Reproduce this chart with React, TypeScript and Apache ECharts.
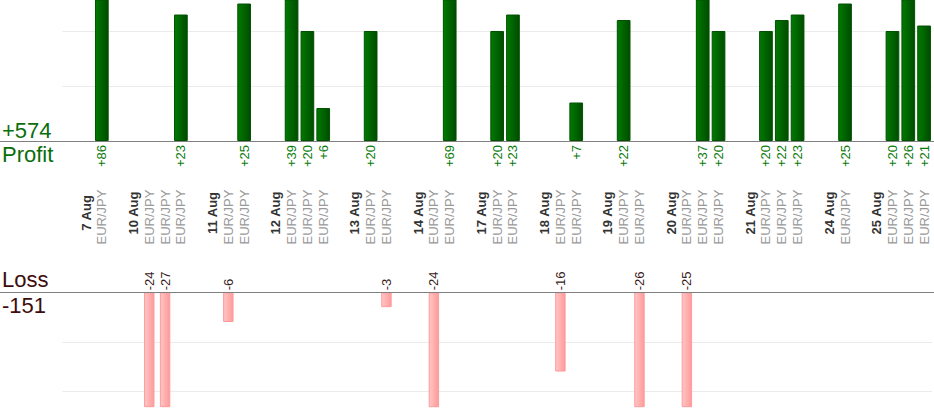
import React, { useEffect, useRef } from "react";
import * as echarts from "echarts";

const dayLabels = ["7 Aug", "10 Aug", "11 Aug", "12 Aug", "13 Aug", "14 Aug", "17 Aug", "18 Aug", "19 Aug", "20 Aug", "21 Aug", "24 Aug", "25 Aug"];
const dayTrades = [
  [86],
  [-24, -27, 23],
  [-6, 25],
  [39, 20, 6],
  [20, -3],
  [-24, 69],
  [20, 23],
  [-16, 7],
  [22, -26],
  [-25, 37, 20],
  [20, 22, 23],
  [25],
  [20, 26, 21],
];
const tradePair = "EUR/JPY";
const profitMax = 25.64;
const lossMax = 23.1;
const gridStep = 10;

type Slot = { date: string; pair: string; pnl: number | null };
const slots: Slot[] = [];
dayLabels.forEach((d, i) => {
  slots.push({ date: "", pair: "", pnl: null });
  slots.push({ date: d, pair: "", pnl: null });
  dayTrades[i].forEach((v) => slots.push({ date: "", pair: tradePair, pnl: v }));
});

const totalProfit = slots.reduce((a, s) => a + (s.pnl !== null && s.pnl > 0 ? s.pnl : 0), 0);
const totalLoss = slots.reduce((a, s) => a + (s.pnl !== null && s.pnl < 0 ? s.pnl : 0), 0);

const FONT = "'Liberation Sans', Arial, sans-serif";

export default function App() {
  const ref = useRef<HTMLDivElement>(null);
  useEffect(() => {
    if (!ref.current) return;
    const chart = echarts.init(ref.current, undefined, { renderer: "svg" });
    const hidden = { axisLine: { show: false }, axisTick: { show: false } };
    const gridLeft = 62.3;
    const gridRight = 2;
    chart.setOption({
      animation: false,
      textStyle: { fontFamily: FONT },
      grid: [
        { left: gridLeft, right: gridRight, top: 0, height: 141 },
        { left: gridLeft, right: gridRight, top: 292.3, height: 114.4 },
      ],
      xAxis: [
        {
          gridIndex: 0,
          type: "category",
          data: slots.map((s) => (s.pnl !== null && s.pnl > 0 ? "+" + s.pnl : "")),
          ...hidden,
          axisLabel: { interval: 0, rotate: 90, margin: 4, color: "#0a7a0a", fontSize: 13, fontFamily: FONT },
        },
        {
          gridIndex: 0,
          type: "category",
          position: "bottom",
          offset: 72,
          data: slots.map((s) => s.date),
          ...hidden,
          axisLabel: {
            interval: 0, rotate: 90, margin: 0, align: "center", verticalAlign: "middle",
            color: "#333333", fontSize: 13, fontWeight: "bold", fontFamily: FONT,
          },
        },
        {
          gridIndex: 0,
          type: "category",
          position: "bottom",
          offset: 76,
          data: slots.map((s) => s.pair),
          ...hidden,
          axisLabel: {
            interval: 0, rotate: 90, margin: 0, align: "center", verticalAlign: "middle",
            color: "#999999", fontSize: 13, fontFamily: FONT,
          },
        },
        {
          gridIndex: 1,
          type: "category",
          position: "top",
          data: slots.map((s) => (s.pnl !== null && s.pnl < 0 ? String(s.pnl) : "")),
          ...hidden,
          axisLabel: { interval: 0, rotate: 90, margin: 2, color: "#3a1a1a", fontSize: 13, fontFamily: FONT },
        },
      ],
      yAxis: [
        {
          gridIndex: 0, type: "value", min: 0, max: profitMax, interval: gridStep,
          ...hidden, axisLabel: { show: false },
          splitLine: { show: true, showMinLine: false, showMaxLine: false, lineStyle: { color: "#ebebeb", width: 1 } },
        },
        {
          gridIndex: 1, type: "value", min: 0, max: lossMax, interval: gridStep, inverse: true,
          ...hidden, axisLabel: { show: false },
          splitLine: { show: true, showMinLine: false, showMaxLine: false, lineStyle: { color: "#ebebeb", width: 1 } },
        },
      ],
      series: [
        {
          type: "bar",
          xAxisIndex: 0,
          yAxisIndex: 0,
          barWidth: 13.7,
          clip: true,
          data: slots.map((s) => (s.pnl !== null && s.pnl > 0 ? s.pnl : "-")),
          itemStyle: {
            color: new echarts.graphic.LinearGradient(0, 0, 1, 0, [
              { offset: 0, color: "#007a00" },
              { offset: 1, color: "#004c00" },
            ]),
            borderColor: "#005200",
            borderWidth: 1,
          },
        },
        {
          type: "bar",
          xAxisIndex: 3,
          yAxisIndex: 1,
          barWidth: 10.4,
          clip: true,
          data: slots.map((s) => (s.pnl !== null && s.pnl < 0 ? -s.pnl : "-")),
          itemStyle: {
            color: new echarts.graphic.LinearGradient(0, 0, 1, 0, [
              { offset: 0, color: "#ffc6c6" },
              { offset: 1, color: "#ff9a9a" },
            ]),
            borderColor: "#ff9a9a",
            borderWidth: 1,
          },
        },
      ],
      graphic: [
        { type: "line", shape: { x1: 0, y1: 141.5, x2: 934, y2: 141.5 }, style: { stroke: "#808080", lineWidth: 1 }, z: 10 },
        { type: "line", shape: { x1: 0, y1: 292.5, x2: 934, y2: 292.5 }, style: { stroke: "#808080", lineWidth: 1 }, z: 10 },
        { type: "text", x: 2, y: 130, style: { text: "+" + totalProfit, font: `22px ${FONT}`, fill: "#0a6e0a", verticalAlign: "middle" } },
        { type: "text", x: 2, y: 154.5, style: { text: "Profit", font: `22px ${FONT}`, fill: "#0a6e0a", verticalAlign: "middle" } },
        { type: "text", x: 2, y: 279.5, style: { text: "Loss", font: `22px ${FONT}`, fill: "#3d0c0c", verticalAlign: "middle" } },
        { type: "text", x: 2, y: 305.5, style: { text: String(totalLoss), font: `22px ${FONT}`, fill: "#3d0c0c", verticalAlign: "middle" } },
      ],
    });
    return () => chart.dispose();
  }, []);
  return (
    <div
      ref={ref}
      style={{ position: "fixed", left: 0, top: 0, width: 934, height: 420, background: "#ffffff" }}
    />
  );
}
